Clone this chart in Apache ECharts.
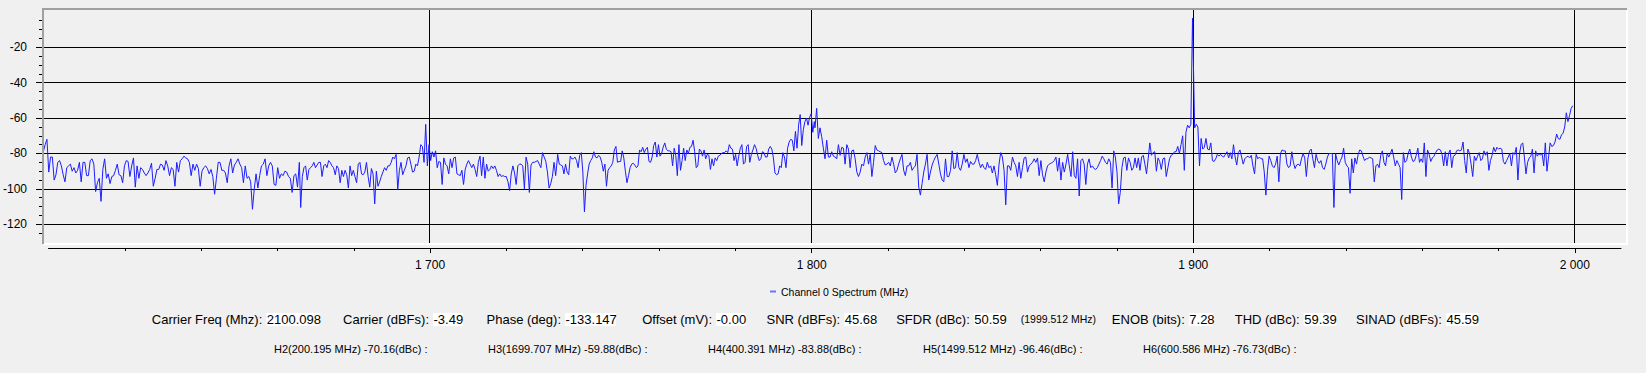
<!DOCTYPE html>
<html><head><meta charset="utf-8">
<script src="https://cdn.jsdelivr.net/npm/echarts@6/dist/echarts.min.js"></script>
<style>html,body{margin:0;padding:0;background:#f0f0f0;}#chart{width:1646px;height:373px;}</style>
</head><body><div id="chart"></div>
<script>
// ---------- DATA ----------
const seriesName = 'Channel 0 Spectrum (MHz)';
// spectrum, in consecutive frequency segments (MHz)
const segStartMHz = [1598.91, 1666.31, 1733.62, 1801.02, 1868.94, 1900.46, 1936.52];
const segEndMHz   = [1665.96, 1733.53, 1800.85, 1868.51, 1899.9, 1936.08, 1999.5];
const seg1 = [-79,-75,-72,-90.5,-82,-82,-95,-92,-85,-84,-87,-92,-96,-88,-87,-86,-90,-88,-91,-89.5,-85,-96,-85,-85,-92.5,-92.5,-84,-83,-86,-101.5,-96.5,-94,-107,-89,-83,-94,-91.5,-97,-93,-92.5,-89.5,-86,-92,-92.5,-96.5,-87,-84,-84.5,-93,-87,-82.5,-99,-87,-94,-88,-89,-91,-92.5,-91,-89,-85.5,-98.5,-94,-89,-89,-86,-86.5,-89.5,-84,-87,-92.5,-88,-89,-98.5,-85,-90.5,-84,-83,-81.5,-82.5,-83,-85,-92.5,-86,-89.5,-86,-88.5,-98.5,-90,-88,-87,-88.5,-91.5,-89,-93,-103,-94,-85,-85,-89.5,-89.5,-91,-96.5,-87,-83,-91,-86.5,-85,-83,-86,-88,-96.5,-87,-94,-93,-96,-111.5,-100,-91.5,-99.5,-92.5,-87,-86,-83,-92.5,-87,-85,-87,-97.5,-98,-88,-94,-91.5,-92.5,-90,-90.5,-93,-94,-102,-92.5,-91.5,-99,-85];
const seg2 = [-110.5,-93,-88,-87,-95,-89,-88,-87,-85,-88,-86.5,-85,-85,-93,-87,-86,-88,-84,-85,-87,-88,-92,-87,-88.5,-96.5,-89.5,-93,-89.5,-92,-99.5,-87,-92.5,-89.5,-93,-96.5,-86,-85,-91.5,-92,-90.5,-85,-93,-99,-88.5,-91.5,-108.5,-90,-98.5,-96,-93,-90.5,-88,-89.5,-87,-87,-85,-82,-83,-80.5,-100.5,-89.5,-85,-92,-89.5,-87,-82.5,-82,-86,-90.5,-90,-86,-87,-82,-75,-76,-85,-63.5,-87,-75,-84,-79,-82,-78.5,-88,-84.5,-85,-97.5,-82.5,-86,-87,-91.5,-83,-88,-82.5,-82,-91.5,-92,-92.5,-89.5,-97.5,-89,-86,-84,-86,-88,-86,-89,-93,-85,-81.5,-92.5,-82,-94,-86,-90,-89,-87,-88.5,-87,-89.5,-93,-91.5,-93,-92.5,-93,-93,-96,-101,-91.5,-87,-91,-97.5,-87,-86,-86,-87,-100,-82,-86,-102,-86.5,-85,-85,-84.5,-84,-86,-88,-79.5,-82,-84.5,-90.5,-99.5,-97,-93,-85,-92.5,-83];
const seg3 = [-80.5,-86,-86.5,-87,-91.5,-86,-90.5,-92,-81.5,-83,-83,-82,-84,-88,-81,-79.5,-90.5,-113,-98,-91.5,-86,-84,-82.5,-79,-82,-82.5,-81,-82,-85,-90,-86,-98.5,-89.5,-88,-87,-85,-78,-76,-85,-84.5,-84.5,-78.5,-82.5,-90,-96.5,-92.5,-88,-86,-85.5,-86.5,-88,-87,-78,-79,-76.5,-79.5,-77.5,-76.5,-84.5,-85,-82,-75.5,-73.5,-82,-75,-81.5,-80,-76.5,-74,-77.5,-78.5,-78.5,-79,-87,-77,-81,-92.5,-75,-89.5,-84,-77,-84,-78,-80,-76.5,-76,-72.5,-79,-88,-87,-77.5,-78.5,-81.5,-78,-83,-80.5,-81,-89,-83,-87,-82.5,-84,-81.5,-81,-80,-79.5,-79.5,-78.5,-79.5,-75,-77,-77.5,-84,-80.5,-87,-81.5,-77,-75,-86,-85,-76,-75,-85,-80.5,-78,-75,-77,-81,-84,-83,-79,-79.5,-82,-82,-77.5,-76,-77.5,-82.5,-91,-92,-91.5,-87,-88,-79.5,-82,-88,-77,-73.5,-72,-72.5,-78.5,-67.5,-77,-64,-58,-75.5,-66.5,-62,-60,-64,-59.5,-57.5,-68,-62];
const seg4 = [-65.5,-54.5,-71.5,-65.5,-70.5,-77,-83,-72.5,-82,-82,-79,-81.5,-82,-83,-75,-81,-76.5,-77,-86,-75,-77.5,-88,-78.5,-78,-83,-90.5,-93,-90.5,-86,-87,-82,-79.5,-86,-80.5,-93,-85,-75.5,-78,-78.5,-79,-79.5,-84,-86.5,-86,-85,-87,-82,-86,-91,-89.5,-86,-83,-80.5,-89.5,-92.5,-87,-87,-85,-89.5,-88,-87,-80.5,-99,-103.5,-97,-90.5,-86,-80.5,-95,-90.5,-86.5,-84,-82,-80.5,-86,-91.5,-95,-96,-83,-93,-93,-89.5,-78.5,-88.5,-88,-79.5,-88,-89.5,-86,-80.5,-85,-83,-88,-84.5,-86,-86,-84,-80.5,-85,-88,-86,-88,-89,-85,-88,-87,-91,-87,-92,-98,-86,-79.5,-82,-89.5,-109,-87,-87,-89.5,-82,-85,-87,-93,-85,-94,-88,-82.5,-82,-90.5,-87,-86,-85,-83,-85,-82.5,-92.5,-84,-92,-96,-90.5,-87,-86,-85.5,-85,-84,-82,-90,-82.5,-95,-85,-90.5,-86,-80.5,-87,-93,-79];
const seg5 = [-92.5,-94,-83,-104,-84,-83,-86,-97.5,-86,-83,-88,-87,-88.5,-89,-88,-86,-84,-81.5,-83,-85,-86,-83,-85,-99.5,-78.5,-82,-90.5,-108.5,-102,-88,-82.5,-82,-89.5,-82.5,-85,-89.5,-88,-82.5,-88,-82.5,-89.5,-82,-81,-86,-91.5,-83,-74,-81,-79.5,-79,-90,-82.5,-84.5,-89,-83,-82.5,-93,-88,-83,-81,-80.5,-79,-79,-76,-80,-75,-70,-89.5,-68,-64,-65.5,-63.5,-3.49];
const seg6 = [-65.5,-63.5,-65,-87,-71.5,-77.5,-76.5,-71.5,-77.5,-78,-74,-84,-84.5,-83,-80.5,-81.5,-80.5,-81.5,-82,-80.5,-79,-82.5,-79.5,-83,-75,-82,-86.5,-79.5,-78,-82,-86,-83,-82,-81.5,-82.5,-81,-87,-91.5,-80.5,-83,-82,-83,-83,-90.5,-103.5,-89.5,-81.5,-84,-87,-88,-86,-81.5,-96,-80,-78,-78.5,-78.5,-86,-88,-87,-79,-85,-88.5,-86.5,-86,-87,-83,-80,-82.5,-93,-82.5,-78.5,-77.5,-83,-88,-80.5,-84,-85.5,-84,-88,-89,-86,-82,-80,-80];
const seg7 = [-80,-110.5,-80,-84,-86.5,-84,-82,-77,-85,-87,-88,-102.5,-83,-91,-82.5,-86,-80.5,-78,-78.5,-81.5,-84,-83,-83,-82,-82.5,-83,-96,-87,-86,-88,-81,-78.5,-85,-87,-80,-82,-80,-77.5,-82,-87,-84,-86,-88,-106,-79.5,-85,-84,-80,-77.5,-82,-84.5,-84,-81,-77,-85,-83,-85,-74,-93,-78,-80.5,-84.5,-82.5,-81.5,-79.5,-78,-77.5,-78,-80.5,-87,-79,-87,-80,-78,-88,-81.5,-81,-78.5,-78,-78.5,-78,-73.5,-84,-91,-77.5,-80,-86,-93,-81.5,-84,-81.5,-79.5,-84,-83,-78.5,-81,-79,-89.5,-84,-81,-76.5,-79,-76.5,-77.5,-77,-77.5,-84.5,-86,-84,-82,-80,-87,-79.5,-80.5,-76.5,-95,-80,-75,-74,-82,-91.5,-85,-82.5,-81.5,-77.5,-91,-78.5,-81.5,-80,-81,-80,-87,-74,-90,-82,-74,-76,-75.5,-73.5,-69,-71.5,-72,-69.5,-68.5,-65,-57,-62,-58.5,-54.5,-53];

const xTickMajor = [1700, 1800, 1900, 2000];
const xTickMinor = [1620,1640,1660,1680,1720,1740,1760,1780,1820,1840,1860,1880,1920,1940,1960,1980];
const yTickMajor = [-20, -40, -60, -80, -100, -120];
const yTickMinor = [-5,-10,-15,-25,-30,-35,-45,-50,-55,-65,-70,-75,-85,-90,-95,-105,-110,-115,-125];

const statLabels = ['Carrier Freq (Mhz):','Carrier (dBFs):','Phase (deg):','Offset (mV):','SNR (dBFs):','SFDR (dBc):','ENOB (bits):','THD (dBc):','SINAD (dBFs):'];
const statValues = ['2100.098','-3.49','-133.147','-0.00','45.68','50.59','7.28','59.39','45.59'];
const sfdrFreq = '(1999.512 MHz)';
const harmNames = ['H2','H3','H4','H5','H6'];
const harmFreqs = ['200.195','1699.707','400.391','1499.512','600.586'];
const harmDbc = ['-70.16','-59.88','-83.88','-96.46','-76.73'];

// ---------- LAYOUT ----------
const statBoxX = [266.3, 433, 565, 716, 844.2, 973.8, 1188.8, 1303.7, 1446];
const statBoxW = [53, 30, 50.7, 29.5, 31.6, 31.7, 23.7, 32.6, 32];
const sfdrFreqX = 1020.7;
const harmX = [274, 488, 708, 923, 1143];
const FONT = 'Liberation Sans, Arial, sans-serif';

const specData = [];
[seg1, seg2, seg3, seg4, seg5, seg6, seg7].forEach((vals, k) => {
  const a = segStartMHz[k], b = segEndMHz[k], n = vals.length;
  vals.forEach((v, i) => specData.push([a + (b - a) * i / (n - 1), v]));
});

const fmtK = v => String(Math.round(v)).replace(/\B(?=(\d{3})+(?!\d))/g, ' ');

const graphics = [];
// plot frame (sunken look)
graphics.push({type:'line', silent:true, z:10, shape:{x1:42, y1:9, x2:1627, y2:9}, style:{stroke:'#a0a0a0', lineWidth:2}});
graphics.push({type:'line', silent:true, z:10, shape:{x1:43, y1:8, x2:43, y2:244}, style:{stroke:'#a0a0a0', lineWidth:2}});
graphics.push({type:'line', silent:true, z:10, shape:{x1:44, y1:244, x2:1627, y2:244}, style:{stroke:'#ffffff', lineWidth:2}});
graphics.push({type:'line', silent:true, z:10, shape:{x1:1627, y1:10, x2:1627, y2:245}, style:{stroke:'#ffffff', lineWidth:2}});
statLabels.forEach((t, i) => {
  graphics.push({type:'text', silent:true, x:statBoxX[i] - 4, y:319, style:{text:t, fill:'#000', font:'13px ' + FONT, align:'right', verticalAlign:'middle'}});
  graphics.push({type:'rect', silent:true, shape:{x:statBoxX[i], y:313, width:statBoxW[i], height:13}, style:{fill:'#ffffff'}});
  graphics.push({type:'text', silent:true, z:2, x:statBoxX[i] + 0.5, y:319.5, style:{text:statValues[i], fill:'#000', font:'13px ' + FONT, align:'left', verticalAlign:'middle'}});
});
graphics.push({type:'text', silent:true, x:sfdrFreqX, y:319, style:{text:sfdrFreq, fill:'#000', font:'10.5px ' + FONT, align:'left', verticalAlign:'middle'}});
harmNames.forEach((h, i) => {
  graphics.push({type:'text', silent:true, x:harmX[i], y:348.5, style:{text:h + '(' + harmFreqs[i] + ' MHz) ' + harmDbc[i] + '(dBc) :', fill:'#000', font:'11px ' + FONT, align:'left', verticalAlign:'middle'}});
});

const option = {
  backgroundColor: '#f0f0f0',
  animation: false,
  textStyle: {fontFamily: FONT},
  grid: [
    {left: 43, right: 20, top: 9, bottom: 130},
    {left: 47.5, right: 25, top: 14, bottom: 136}
  ],
  legend: {
    data: [{name: seriesName, itemStyle: {color: '#7272ff'}}],
    left: 765, top: 281, icon: 'rect', itemWidth: 6, itemHeight: 2,
    textStyle: {fontSize: 10.5, color: '#000', fontFamily: FONT},
    selectedMode: false
  },
  xAxis: [
    {gridIndex: 0, type: 'value', min: 1598.82, max: 2013.44, show: false},
    {gridIndex: 1, type: 'value', min: 1600, max: 2012.1, offset: 11, position: 'bottom',
      axisLine: {show: true, onZero: false, lineStyle: {color: '#000', width: 1}},
      axisTick: {show: true, length: 5, customValues: xTickMajor, lineStyle: {color: '#000'}},
      axisLabel: {show: true, customValues: xTickMajor, formatter: fmtK, color: '#000', fontSize: 12, margin: 11, fontFamily: FONT},
      splitLine: {show: false}},
    {gridIndex: 1, type: 'value', min: 1600, max: 2012.1, offset: 11, position: 'bottom',
      axisLine: {show: false, onZero: false},
      axisTick: {show: true, length: 3, customValues: xTickMinor, lineStyle: {color: '#000'}},
      axisLabel: {show: false}, splitLine: {show: false}}
  ],
  yAxis: [
    {gridIndex: 0, type: 'value', min: -130.56, max: 1.64, show: false},
    {gridIndex: 1, type: 'value', min: -127.2, max: -1.19, offset: 6.5, position: 'left',
      axisLine: {show: true, onZero: false, lineStyle: {color: '#000', width: 1}},
      axisTick: {show: true, length: 6, customValues: yTickMajor, lineStyle: {color: '#000'}},
      axisLabel: {show: true, customValues: yTickMajor, color: '#000', fontSize: 12, margin: 15, fontFamily: FONT},
      splitLine: {show: false}},
    {gridIndex: 1, type: 'value', min: -127.2, max: -1.19, offset: 6.5, position: 'left',
      axisLine: {show: false, onZero: false},
      axisTick: {show: true, length: 3, customValues: yTickMinor, lineStyle: {color: '#000'}},
      axisLabel: {show: false}, splitLine: {show: false}}
  ],
  series: [
    {type: 'line', name: 'grid', xAxisIndex: 0, yAxisIndex: 0, data: [], z: 1, silent: true,
      markLine: {silent: true, z: 1, symbol: ['none', 'none'], label: {show: false}, animation: false,
        lineStyle: {color: '#000', width: 1, type: 'solid'},
        emphasis: {disabled: true},
        data: yTickMajor.map(v => ({yAxis: v})).concat(xTickMajor.map(v => ({xAxis: v})))}},
    {type: 'line', name: seriesName, xAxisIndex: 0, yAxisIndex: 0, data: specData, z: 5,
      showSymbol: false, symbol: 'none', sampling: false, clip: true,
      lineStyle: {color: '#1d1dff', width: 1}, itemStyle: {color: '#1d1dff'},
      emphasis: {disabled: true}}
  ],
  graphic: graphics
};
const chart = echarts.init(document.getElementById('chart'), null, {renderer: 'svg'});
chart.setOption(option);
</script></body></html>
